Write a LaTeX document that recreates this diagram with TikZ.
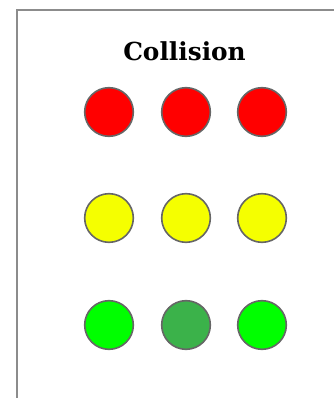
\documentclass[tikz,border=0pt]{standalone}
\usepackage{fontspec}
\setmainfont{DejaVu Serif}

\definecolor{lampred}{RGB}{255,0,0}
\definecolor{lampyellow}{RGB}{245,255,0}
\definecolor{lampgreen}{RGB}{0,255,0}
\definecolor{lampdark}{RGB}{59,178,74}
\definecolor{framegray}{RGB}{140,140,140}

\begin{document}
\begin{tikzpicture}[x=0.75pt,y=-0.75pt,
  lamp/.style={circle,draw=black!60,line width=1.2pt,minimum size=36.5pt,inner sep=0pt}]
\useasboundingbox (0,0) rectangle (334,398);
% ---------- frame ----------
\draw[framegray,line width=2pt] (17,398) -- (17,10) -- (334,10);
\node[font=\bfseries\fontsize{18.6}{20}\selectfont] (title) at (184.5,51) {Collision};
% ---------- lamps, one row per colour ----------
\foreach \x/\n in {109/a,186/b,262/c}{
  \node[lamp,fill=lampred] (red\n) at (\x,112) {};
  \node[lamp,fill=lampyellow] (yellow\n) at (\x,218) {};}
\node[lamp,fill=lampgreen] (greena) at (109,325) {};
\node[lamp,fill=lampdark] (greenb) at (186,325) {};
\node[lamp,fill=lampgreen] (greenc) at (262,325) {};
\end{tikzpicture}
\end{document}
